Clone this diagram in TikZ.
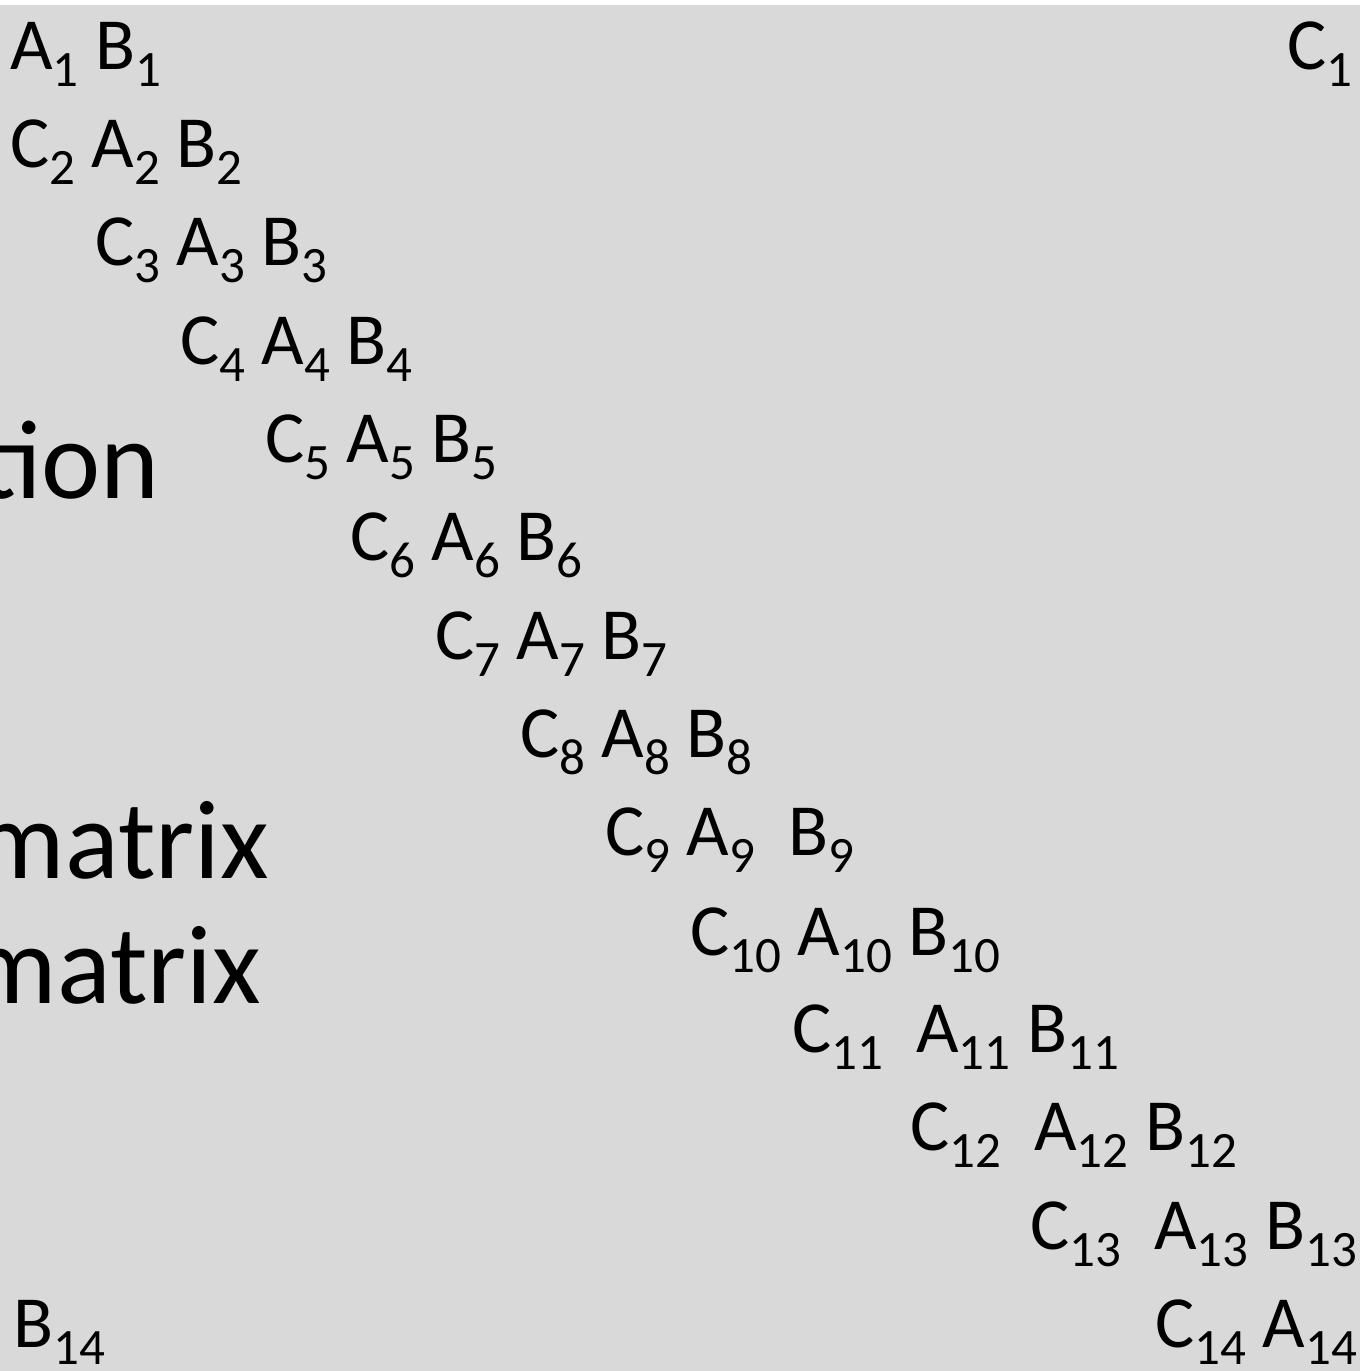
\documentclass[tikz,border=0pt]{standalone}
\usepackage{fontspec}
\setmainfont{Carlito}
\definecolor{slidegray}{HTML}{D9D9D9}
\newcommand\sbx[1]{\raisebox{-17.5pt}{\fontsize{51}{51}\selectfont #1}}
\tikzset{
  rowtxt/.style={anchor=base west,inner sep=0pt,font=\fontsize{73.5}{73.5}\selectfont,text=black},
  bigtxt/.style={anchor=base east,inner sep=0pt,font=\fontsize{112}{112}\selectfont,text=black}
}
\begin{document}
\begin{tikzpicture}[x=1pt,y=1pt]
\useasboundingbox (0,0) rectangle (1360,-1371);
\fill[white] (0,0) rectangle (1360,-1371);
\fill[slidegray] (0,-5) rectangle (1360,-1371);
\clip (0,0) rectangle (1360,-1371);
\node[bigtxt] (t1) at (160,-498) {tion};
\node[bigtxt] (t2) at (269,-878) {matrix};
\node[bigtxt] (t3) at (261,-1003) {matrix};
\node[rowtxt] (r1) at (10,-69) {A\sbx{1} B\sbx{1}};
\node[rowtxt] (c1) at (1287,-69) {C\sbx{1}};
\node[rowtxt] (r2) at (10,-167) {C\sbx{2} A\sbx{2} B\sbx{2}};
\node[rowtxt] (r3) at (95,-265) {C\sbx{3} A\sbx{3} B\sbx{3}};
\node[rowtxt] (r4) at (180,-364) {C\sbx{4} A\sbx{4} B\sbx{4}};
\node[rowtxt] (r5) at (265,-462) {C\sbx{5} A\sbx{5} B\sbx{5}};
\node[rowtxt] (r6) at (350,-560) {C\sbx{6} A\sbx{6} B\sbx{6}};
\node[rowtxt] (r7) at (435,-659) {C\sbx{7} A\sbx{7} B\sbx{7}};
\node[rowtxt] (r8) at (520,-757) {C\sbx{8} A\sbx{8} B\sbx{8}};
\node[rowtxt] (r9) at (605,-855) {C\sbx{9} A\sbx{9}\ \ B\sbx{9}};
\node[rowtxt] (r10) at (690,-955) {C\sbx{10} A\sbx{10} B\sbx{10}};
\node[rowtxt] (r11) at (792,-1052) {C\sbx{11}\ \ A\sbx{11} B\sbx{11}};
\node[rowtxt] (r12) at (910,-1150) {C\sbx{12}\ \ A\sbx{12} B\sbx{12}};
\node[rowtxt] (r13) at (1030,-1249) {C\sbx{13}\ \ A\sbx{13} B\sbx{13}};
\node[rowtxt] (r14) at (1155,-1347) {C\sbx{14} A\sbx{14}};
\node[rowtxt] (b14) at (13,-1347) {B\sbx{14}};
\end{tikzpicture}
\end{document}
